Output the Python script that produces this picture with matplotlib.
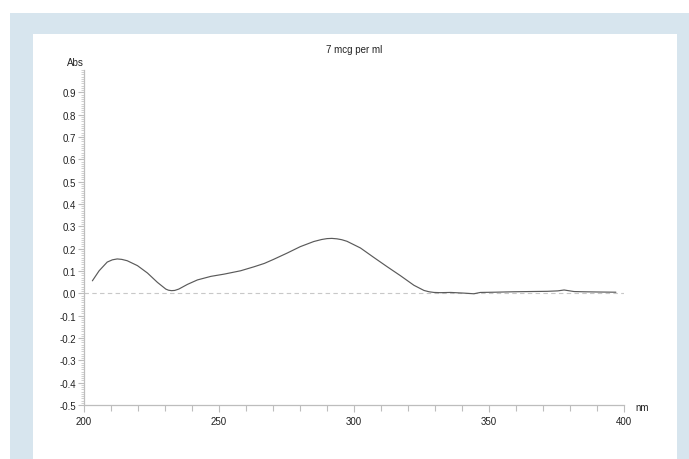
"""
UV absorbance spectrum, 7 mcg per ml
"""
from matplotlib import pyplot as plt
from matplotlib.patches import Rectangle
from matplotlib.ticker import MultipleLocator
import numpy as np

# wavelength (nm) and absorbance
wavelength = [203.1, 205.6, 208.6, 210.5, 212.3, 214.0, 216.0, 219.8, 223.5, 227.2,
              230.3, 231.3, 232.4, 233.6, 235.1, 238.3, 242.0, 247.0, 251.9, 258.0,
              263.0, 266.8, 270.2, 275.2, 280.1, 285.1, 288.0, 290.0, 291.8, 293.7,
              295.5, 297.4, 302.4, 307.3, 312.3, 317.2, 322.2, 325.9, 327.8, 329.6,
              332.0, 335.8, 340.7, 344.4, 346.8, 352.0, 359.2, 365.0, 371.6, 375.5,
              377.8, 381.5, 385.0, 390.2, 397.0]
absorbance = [0.056, 0.101, 0.140, 0.150, 0.154, 0.152, 0.146, 0.124, 0.091, 0.049,
              0.019, 0.014, 0.012, 0.013, 0.019, 0.040, 0.060, 0.076, 0.086, 0.101,
              0.119, 0.134, 0.152, 0.180, 0.209, 0.232, 0.241, 0.245, 0.246, 0.244,
              0.240, 0.233, 0.203, 0.161, 0.119, 0.079, 0.036, 0.013, 0.007, 0.004,
              0.003, 0.004, 0.001, -0.002, 0.004, 0.005, 0.007, 0.008, 0.009, 0.011,
              0.015, 0.008, 0.007, 0.006, 0.005]

y_major = [-0.5, -0.4, -0.3, -0.2, -0.1, 0.0, 0.1, 0.2, 0.3, 0.4, 0.5, 0.6, 0.7, 0.8, 0.9]
x_major = [200, 250, 300, 350, 400]

TEXT_COLOR = '#222222'
AXIS_COLOR = '#bdbdbd'
FRAME_BLUE = '#d7e5ee'

plt.rcParams['font.family'] = ['Liberation Sans', 'DejaVu Sans']

fig = plt.figure(figsize=(6.89, 4.60), dpi=100)
W, H = 689.0, 460.0

# blue frame with white panel inside (kept behind the axes)
fig.patches.append(Rectangle((10 / W, 0), 679 / W, 1 - 14 / H, transform=fig.transFigure,
                             facecolor=FRAME_BLUE, edgecolor='none', zorder=-10))
fig.patches.append(Rectangle((33 / W, 0), 644 / W, 1 - 35 / H, transform=fig.transFigure,
                             facecolor='white', edgecolor='none', zorder=-9))

ax = fig.add_axes([84 / W, 1 - 406 / H, 540 / W, 335 / H])
ax.patch.set_alpha(0)

ax.axhline(0.0, color='#c8c8c8', lw=0.8, ls=(0, (4, 3)), zorder=1)
ax.plot(wavelength, absorbance, color='#5a5a5a', lw=0.85, zorder=2,
        solid_joinstyle='round', solid_capstyle='round')

ax.set_xlim(200, 400)
ax.set_ylim(-0.5, 1.0)

ax.set_xticks(x_major)
ax.set_xticklabels([str(v) for v in x_major])
ax.xaxis.set_minor_locator(MultipleLocator(10))
ax.set_yticks(y_major)
ax.set_yticklabels(['%.1f' % v for v in y_major])
ax.yaxis.set_minor_locator(MultipleLocator(0.01))

for side in ['top', 'right']:
    ax.spines[side].set_visible(False)
for side in ['left', 'bottom']:
    ax.spines[side].set_color(AXIS_COLOR)
    ax.spines[side].set_linewidth(0.9)

ax.tick_params(axis='both', which='both', color=AXIS_COLOR, width=0.8,
               labelcolor=TEXT_COLOR, labelsize=7)
ax.tick_params(axis='x', which='major', length=5, pad=3)
ax.tick_params(axis='x', which='minor', length=4)
ax.tick_params(axis='y', which='major', length=4, pad=1.5)
ax.tick_params(axis='y', which='minor', length=2, width=0.5)

ax.text(0.5, 1.063, '7 mcg per ml', transform=ax.transAxes, ha='center', va='center',
        fontsize=7, color=TEXT_COLOR)
ax.text(0.0, 1.024, 'Abs', transform=ax.transAxes, ha='right', va='center',
        fontsize=7, color=TEXT_COLOR)
ax.text(1.022, -0.006, 'nm', transform=ax.transAxes, ha='left', va='center',
        fontsize=7, color=TEXT_COLOR)

plt.savefig('out.png', dpi=100)
